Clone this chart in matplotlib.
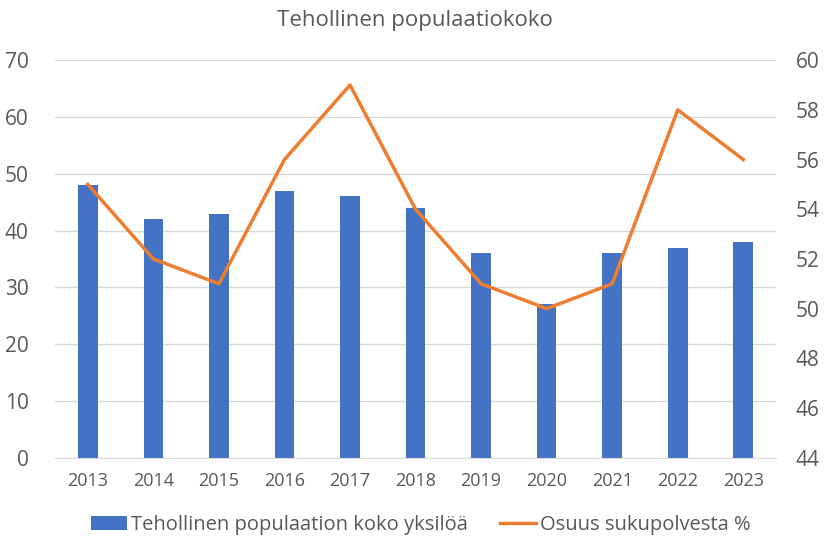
import matplotlib
matplotlib.use('Agg')
import matplotlib.pyplot as plt
import numpy as np

plt.rcParams['font.family'] = ['Open Sans', 'DejaVu Sans']

#Data
years = ['2013', '2014', '2015', '2016', '2017', '2018', '2019', '2020', '2021', '2022', '2023']
popsize = [48, 42, 43, 47, 46, 44, 36, 27, 36, 37, 38]
share = [55, 52, 51, 56, 59, 54, 51, 50, 51, 58, 56]

barColor = '#4472C4'
lineColor = '#ED7D31'
textColor = '#595959'
gridColor = '#D9D9D9'

fig = plt.figure(figsize=(8.25, 5.42), dpi=100)
ax = fig.add_axes([0.0667, 0.1555, 0.874, 0.7335])
ax2 = ax.twinx()

x = np.arange(len(years))
ax.bar(x, popsize, width=0.3, color=barColor, label='Tehollinen populaation koko yksilöä', zorder=2)
ax2.plot(x, share, color=lineColor, linewidth=2.5, label='Osuus sukupolvesta %', zorder=3)

#Left axis
ax.set_ylim(0, 70)
ax.set_yticks(range(0, 71, 10))
ax.set_xlim(-0.5, len(years) - 0.5)
ax.set_xticks(x)
ax.set_xticklabels(years)
ax.yaxis.grid(True, color=gridColor, linewidth=1)
ax.set_axisbelow(True)

#Right axis
ax2.set_ylim(44, 60)
ax2.set_yticks(range(44, 61, 2))

for a in (ax, ax2):
    for s in a.spines.values():
        s.set_visible(False)
    a.tick_params(length=0, colors=textColor)

ax.spines['bottom'].set_visible(True)
ax.spines['bottom'].set_color(gridColor)

ax.tick_params(axis='y', labelsize=15, pad=19)
ax.tick_params(axis='x', labelsize=13, pad=10)
ax2.tick_params(axis='y', labelsize=15, pad=14)

fig.text(0.503, 0.962, 'Tehollinen populaatiokoko', ha='center', va='center', fontsize=16, color=textColor)

h1, l1 = ax.get_legend_handles_labels()
h2, l2 = ax2.get_legend_handles_labels()
leg = fig.legend(h1 + h2, l1 + l2, loc='center', bbox_to_anchor=(0.51, 0.032), ncol=2,
                 frameon=False, fontsize=14.5, handlelength=1.8, handletextpad=0.2, columnspacing=1.6)
for t in leg.get_texts():
    t.set_color(textColor)

fig.savefig('out.png', dpi=100)
